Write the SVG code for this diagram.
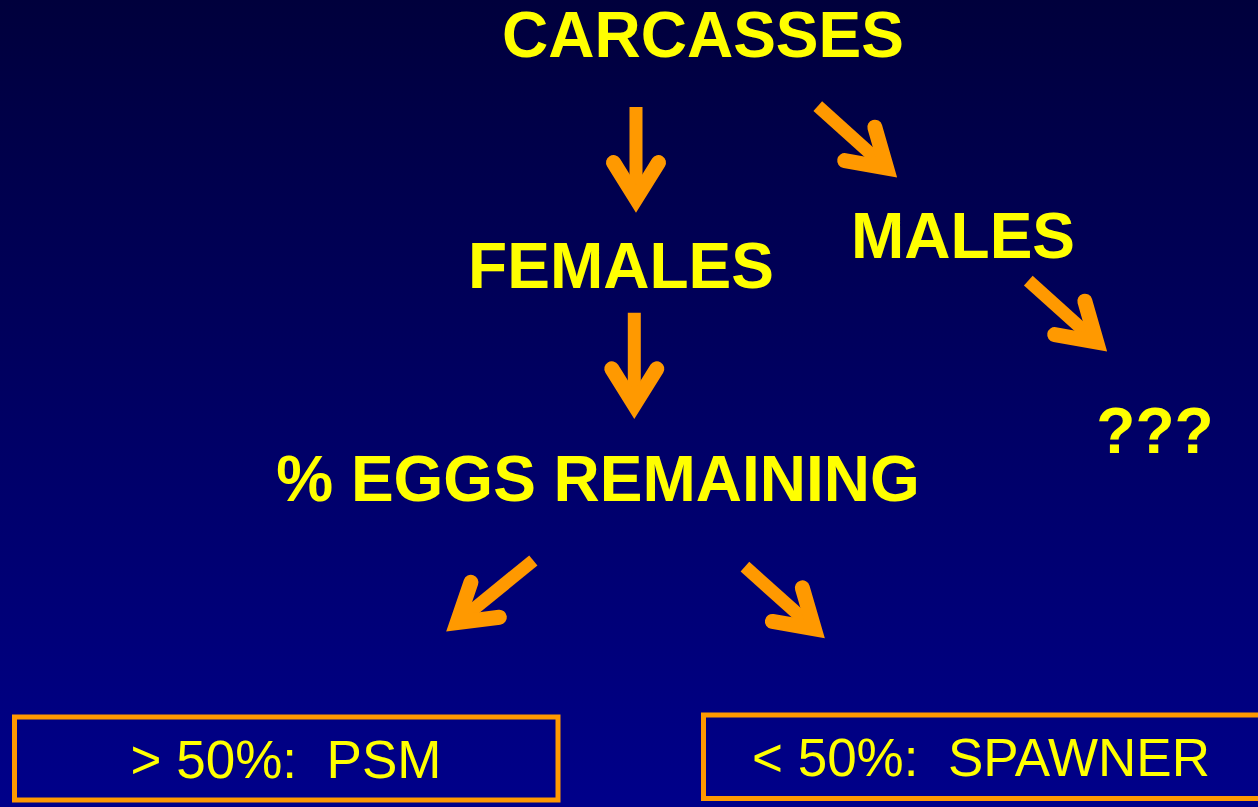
<svg xmlns="http://www.w3.org/2000/svg" xmlns:xlink="http://www.w3.org/1999/xlink" width="1258" height="807" viewBox="0 0 1258 807">
  <defs>
    <linearGradient id="bg" x1="0" y1="0" x2="0" y2="1">
      <stop offset="0" stop-color="#00003c"/>
      <stop offset="1" stop-color="#00008a"/>
    </linearGradient>
    <path id="head" d="M-50.5,-22.5 L-14.4,0 L-50.5,22.5" class="head"/>
  </defs>
  <style>
    .title { font-family: "Liberation Sans", Arial, sans-serif; font-weight: bold; font-size: 64px; fill: #ffff00; text-anchor: middle; }
    .boxtext { font-family: "Liberation Sans", Arial, sans-serif; font-size: 53px; fill: #ffff00; text-anchor: middle; white-space: pre; }
    .box { fill: none; stroke: #ff9900; stroke-width: 5; }
    .shaft { stroke: #ff9900; stroke-width: 13; stroke-linecap: butt; fill: none; }
    .head { stroke: #ff9900; stroke-width: 15; stroke-linecap: round; stroke-linejoin: miter; stroke-miterlimit: 4; fill: none; }
  </style>
  <rect x="0" y="0" width="1258" height="807" fill="url(#bg)"/>

  <g id="connectors">
    <g id="arrow-carcasses-females" transform="translate(636,213) rotate(90)">
      <line class="shaft" x1="-106" y1="0" x2="-22" y2="0"/>
      <use xlink:href="#head"/>
    </g>
    <g id="arrow-carcasses-males" transform="translate(897.3,177.7) rotate(42)">
      <line class="shaft" x1="-107" y1="0" x2="-22" y2="0"/>
      <use xlink:href="#head"/>
    </g>
    <g id="arrow-males-unknown" transform="translate(1107.3,351.7) rotate(42)">
      <line class="shaft" x1="-106.3" y1="0" x2="-22" y2="0"/>
      <use xlink:href="#head"/>
    </g>
    <g id="arrow-females-eggs" transform="translate(634.3,419.3) rotate(90)">
      <line class="shaft" x1="-106.6" y1="0" x2="-22" y2="0"/>
      <use xlink:href="#head"/>
    </g>
    <g id="arrow-eggs-psm" transform="translate(446,631.7) rotate(140.8)">
      <line class="shaft" x1="-112.7" y1="0" x2="-22" y2="0"/>
      <use xlink:href="#head"/>
    </g>
    <g id="arrow-eggs-spawner" transform="translate(825,638.3) rotate(41.8)">
      <line class="shaft" x1="-107.4" y1="0" x2="-22" y2="0"/>
      <use xlink:href="#head"/>
    </g>
  </g>

  <g id="carcasses"><text class="title" x="703" y="57">CARCASSES</text></g>
  <g id="females"><text class="title" x="621" y="288">FEMALES</text></g>
  <g id="males"><text class="title" x="963" y="258">MALES</text></g>
  <g id="unknown"><text class="title" x="1155" y="453">???</text></g>
  <g id="eggs"><text class="title" x="598" y="501">% EGGS REMAINING</text></g>

  <g id="psm">
    <rect class="box" x="14.5" y="717" width="543.5" height="83"/>
    <text class="boxtext" x="286" y="778">&gt; 50%:  PSM</text>
  </g>
  <g id="spawner">
    <rect class="box" x="703.5" y="715" width="580" height="83.5"/>
    <text class="boxtext" x="981" y="776">&lt; 50%:  SPAWNER</text>
  </g>
</svg>
